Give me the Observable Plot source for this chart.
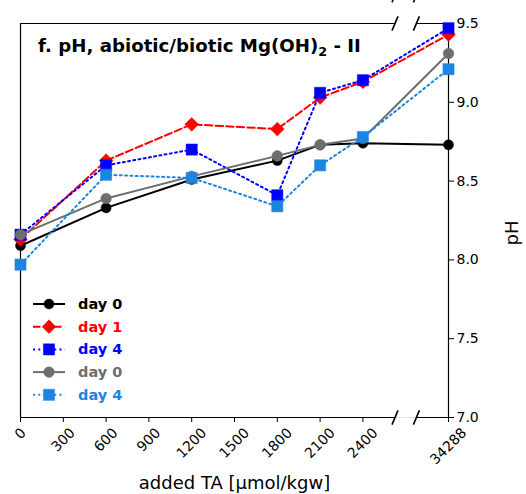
<!DOCTYPE html>
<html><head><meta charset="utf-8">
<script src="https://cdn.jsdelivr.net/npm/d3@7"></script>
<script src="https://cdn.jsdelivr.net/npm/@observablehq/plot@0.6"></script>
<style>
body{margin:0;background:#fff;}
#chart{position:relative;width:526px;height:494px;}
svg text{font-family:"DejaVu Sans",sans-serif;}
</style>
</head><body><div id="chart"></div>
<script>
// ---- data ----
const addedTA = [0, 600, 1200, 1800, 2100, 2400, 34288];
const seriesLabels = ["day 0", "day 1", "day 4", "day 0", "day 4"];
const pH_abiotic_day0 = [8.09, 8.33, 8.51, 8.63, 8.73, 8.74, 8.73];
const pH_abiotic_day1 = [8.13, 8.63, 8.86, 8.83, 9.03, 9.13, 9.43];
const pH_abiotic_day4 = [8.16, 8.60, 8.70, 8.41, 9.06, 9.14, 9.47];
const pH_biotic_day0  = [8.16, 8.39, 8.53, 8.66, 8.73, 8.77, 9.31];
const pH_biotic_day4  = [7.97, 8.54, 8.52, 8.34, 8.60, 8.78, 9.21];
const xTickLabels = [0, 300, 600, 900, 1200, 1500, 1800, 2100, 2400, 34288];
const yTickLabels = [7.0, 7.5, 8.0, 8.5, 9.0, 9.5];
const titleParts = ["f. pH, abiotic/biotic Mg(OH)", "2", " - II"];
const xLabel = "added TA [µmol/kgw]";
const yLabel = "pH";

// ---- broken axis mapping ----
const lastRegular = 2400, brokenPos = 3000;
const bx = v => v > lastRegular ? brokenPos : v;
const breakAt = [2625, 2775];

const styles = [
  {color: "#000000", dash: null, symbol: "circle", r: 5},
  {color: "#ff0000", dash: "7.4,3.2", symbol: "diamond2", r: 6.2},
  {color: "#0000ff", dash: "2,3.3", symbol: "square", r: 6.3},
  {color: "#6e6e6e", dash: null, symbol: "circle", r: 5.3},
  {color: "#1e84e2", dash: "2,3.3", symbol: "square", r: 6.3}
];
const allSeries = [pH_abiotic_day0, pH_abiotic_day1, pH_abiotic_day4, pH_biotic_day0, pH_biotic_day4];

const marks = [];
allSeries.forEach((vals, i) => {
  const data = vals.map((v, j) => ({x: bx(addedTA[j]), y: v}));
  const s = styles[i];
  marks.push(Plot.line(data, {x: "x", y: "y", stroke: s.color, strokeWidth: 2, strokeDasharray: s.dash}));
  marks.push(Plot.dot(data, {x: "x", y: "y", fill: s.color, stroke: s.color, strokeWidth: 0.5, symbol: s.symbol, r: s.r}));
});

// frame / spines with break
const ymin = yTickLabels[0], ymax = yTickLabels[yTickLabels.length - 1];
const spineSegs = [
  {y: ymin, a: 0, b: breakAt[0], c: "#000"}, {y: ymin, a: breakAt[1], b: brokenPos, c: "#000"},
  {y: ymin, a: breakAt[0], b: breakAt[1], c: "#e4e4e4"},
  {y: ymax, a: 0, b: breakAt[0], c: "#000"}, {y: ymax, a: breakAt[1], b: brokenPos, c: "#000"}
];
const breakMarks = [];
[ymin, ymax, 9.679].forEach(y => breakAt.forEach(x => breakMarks.push({x, y})));

const plot = Plot.plot({
  width: 526, height: 494,
  marginLeft: 20, marginRight: 78, marginTop: 23, marginBottom: 77,
  style: {fontFamily: "DejaVu Sans", background: "#fff", overflow: "visible"},
  x: {domain: [0, brokenPos]},
  y: {domain: [ymin, ymax]},
  marks: [
    Plot.ruleY(spineSegs, {y: "y", x1: "a", x2: "b", stroke: "c", strokeWidth: 1.2}),
    Plot.ruleX([0, brokenPos], {stroke: "#000", strokeWidth: 1.2}),
    Plot.link(breakMarks, {x1: d => d.x - 21, x2: d => d.x + 21, y1: d => d.y - 0.045, y2: d => d.y + 0.045, stroke: "#000", strokeWidth: 1.6}),
    Plot.axisX(xTickLabels.map(bx), {tickSize: 5, text: null, label: null, color: "#000"}),
    Plot.axisY(yTickLabels, {anchor: "right", tickFormat: d => d.toFixed(1), tickSize: 5, tickPadding: 3, fontSize: 14, label: null, color: "#000"}),
    ...marks,
    Plot.text([xLabel], {text: d => d, frameAnchor: "bottom", dy: 71, fontSize: 18, fill: "#000"}),
    Plot.text([yLabel], {text: d => d, frameAnchor: "right", dx: 64, rotate: -90, fontSize: 18, fill: "#000"})
  ]
});
document.getElementById("chart").appendChild(plot);

const svg = d3.select(plot);
const xs = plot.scale("x"), ys = plot.scale("y");

// ---- x tick labels: rotated 45°, centred on tick (matplotlib ha=center) ----
const fs = 14, labelTop = ys.apply(ymin) + 9.5;
const xl = svg.append("g");
xTickLabels.forEach(v => {
  const t = xl.append("text").attr("font-size", fs).attr("font-family", "DejaVu Sans")
    .attr("text-anchor", "middle").attr("dy", "0.36em").attr("fill", "#000").text(String(v));
  const L = t.node().getComputedTextLength();
  const ext = (L + 0.73 * fs) * Math.SQRT1_2;
  const cx = xs.apply(bx(v)), cy = labelTop + ext / 2;
  t.attr("transform", `translate(${cx},${cy}) rotate(-45)`);
});

// ---- title with subscript ----
const tt = svg.append("text").attr("x", 38).attr("y", 51.5)
  .attr("text-anchor", "start").attr("font-weight", "bold").attr("font-size", 18.2)
  .attr("font-family", "DejaVu Sans").attr("fill", "#000");
tt.append("tspan").text(titleParts[0]);
tt.append("tspan").attr("font-size", 12.7).attr("dy", 4).text(titleParts[1]);
tt.append("tspan").attr("dy", -4).text(titleParts[2]);

// ---- legend ----
const lg = svg.append("g").attr("transform", "translate(33,304)");
seriesLabels.forEach((lab, i) => {
  const s = styles[i];
  const g = lg.append("g").attr("transform", `translate(0,${i * 22.7})`);
  g.append("line").attr("x1", 0).attr("x2", 32).attr("y1", 0).attr("y2", 0)
    .attr("stroke", s.color).attr("stroke-width", 2).attr("stroke-dasharray", s.dash);
  const symMap = {circle: d3.symbolCircle, square: d3.symbolSquare, diamond2: d3.symbolDiamond2};
  g.append("path").attr("transform", "translate(16,0)")
    .attr("d", d3.symbol(symMap[s.symbol], Math.PI * s.r * s.r)())
    .attr("fill", s.color).attr("stroke", s.color).attr("stroke-width", 0.5);
  g.append("text").attr("x", 45).attr("y", 0).attr("dy", "0.35em")
    .attr("text-anchor", "start")
    .attr("fill", s.color).attr("font-weight", "bold").attr("font-size", 14.5)
    .attr("font-family", "DejaVu Sans").text(lab);
});
</script>
</body></html>
